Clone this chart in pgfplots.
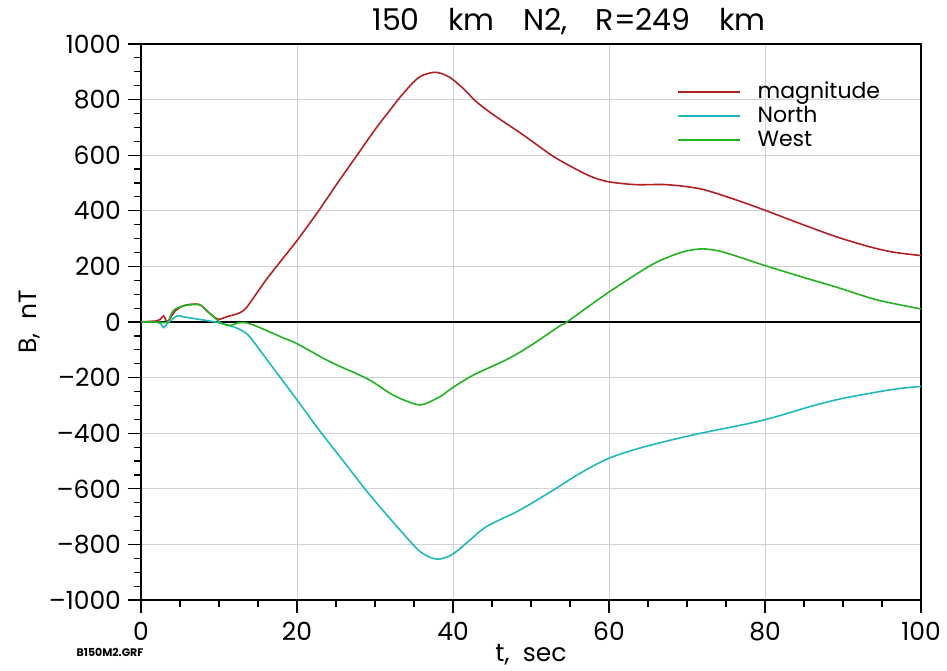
\documentclass[border=0pt]{standalone}
\usepackage{pgfplots}
\pgfplotsset{compat=1.18}
\usepackage{fontspec}
\setmainfont{Poppins}
\definecolor{cmag}{RGB}{178,34,34}
\definecolor{cnorth}{RGB}{32,184,190}
\definecolor{cwest}{RGB}{34,178,34}
\begin{document}
\begin{tikzpicture}
\path[use as bounding box] (0,0) rectangle (473.5pt,335pt);
\begin{axis}[
  at={(70.5pt,35pt)}, anchor=south west,
  scale only axis, width=390pt, height=278pt,
  xmin=0, xmax=100, ymin=-1000, ymax=1000,
  xtick={0,20,...,100}, ytick={-1000,-800,...,1000},
  yticklabels={–1000,–800,–600,–400,–200,0,200,400,600,800,1000},
  xtick pos=bottom, ytick pos=left,
  minor x tick num=3, minor y tick num=3,
  tick align=outside, major tick length=6.5pt, minor tick length=3.5pt,
  tick style={black, line width=0.6pt},
  axis line style={line width=0.6pt},
  grid=major, grid style={gray!35, line width=0.5pt},
  ticklabel style={font=\fontsize{12.5}{14}\selectfont},
  /pgf/number format/assume math mode=true,
  xticklabel style={yshift=-1pt},
  legend cell align=left,
  legend style={at={(rel axis cs:0.6864,0.94)}, anchor=north west, draw=none, fill=none,
    font=\fontsize{11}{11.5}\selectfont, row sep=-1.5pt, inner sep=0pt,
    /tikz/every odd column/.append style={column sep=6.5pt}},
  legend image code/.code={\draw[#1, line width=0.9pt] (0pt,0pt) -- (31pt,0pt);},
  every axis plot/.append style={line width=0.8pt, smooth},
]
\draw[black, line width=0.8pt] (axis cs:0,0) -- (axis cs:100,0);
\addplot[cmag] coordinates {
(0,0) (1,2) (2,4) (2.5,10) (2.9,22) (3.4,2) (4.4,40) (5.4,58) (6.5,64) (7.3,64) (7.8,58) (8.8,31) (9.9,10) (11,19) (12.5,31) (13.3,45) (14,70) (16,150) (18,222) (20,293) (22.8,401) (25,492) (27.7,600) (30,692) (32,765) (33.2,808) (34.9,862) (36,886) (37.5,898) (38.5,894) (39.8,876) (41.5,835) (43,792) (45.2,745) (49,673) (52.9,595) (56.3,542) (58,520) (60,504) (63.5,494) (67.4,494) (71.7,479) (75.9,443) (80,402) (84.5,354) (89.2,306) (93.5,270) (96.5,251) (100,239)
};
\addlegendentry{magnitude}
\addplot[cnorth] coordinates {
(0,0) (2,0) (2.5,-5) (2.9,-20) (3.4,-5) (4.6,22) (5.4,19) (7.1,11) (9.3,1) (11.4,-13) (12.3,-22) (13.2,-35) (14,-55) (16,-130) (18,-205) (20,-280) (23,-395) (25.8,-495) (28.5,-593) (30.6,-664) (33.2,-748) (35.8,-826) (37.9,-853) (39.8,-838) (41.7,-796) (44.3,-736) (48.6,-676) (52.9,-604) (56.3,-544) (60,-490) (64.4,-450) (70.8,-406) (78.1,-364) (81.5,-340) (85.8,-304) (90.1,-274) (96.5,-242) (100,-232)
};
\addlegendentry{North}
\addplot[cwest] coordinates {
(0,0) (2,0) (3.4,0) (4.1,40) (5.4,58) (7.1,63) (7.8,58) (9.3,19) (10.3,-4) (11.4,-13) (12.3,-4) (13.3,-2) (14.8,-15) (18.3,-58) (20,-78) (24.3,-144) (29,-204) (32,-258) (33.2,-275) (35.8,-298) (38.3,-269) (39.8,-239) (42.6,-191) (46.9,-135) (50,-84) (53.7,-14) (54.6,0) (60,108) (65.3,203) (68,238) (70,256) (72,263) (74,256) (76,240) (80,203) (84.5,164) (89.2,125) (94.3,80) (100,47)
};
\addlegendentry{West}
\end{axis}
\node at (284.5pt,324pt) {\fontsize{15}{17}\selectfont 150\hspace{0.95em}km\hspace{0.95em}N2,\hspace{0.95em}R=249\hspace{0.95em}km};
\node[rotate=90] at (15pt,174pt) {\fontsize{12.5}{14}\selectfont B,\ \ nT};
\node at (265.5pt,7.5pt) {\fontsize{12.5}{14}\selectfont t,\ \ sec};
\node at (55pt,9pt) {\fontsize{5.5}{6}\selectfont\bfseries B150M2.GRF};
\end{tikzpicture}
\end{document}
